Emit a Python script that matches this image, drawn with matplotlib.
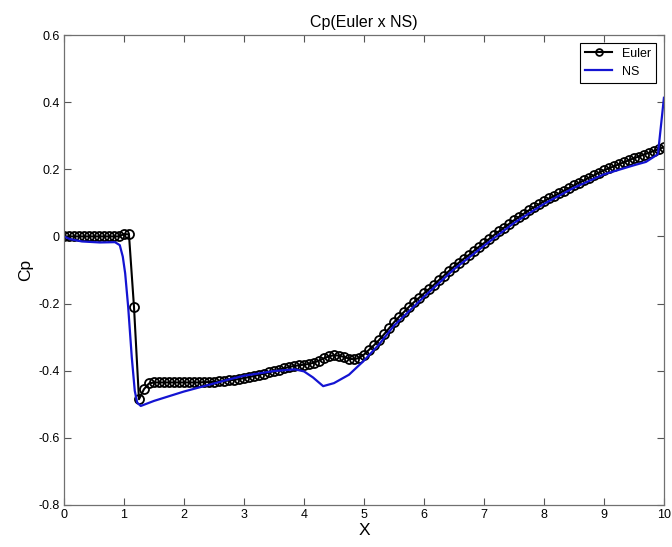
import matplotlib
matplotlib.use('Agg')
import matplotlib.pyplot as plt
from matplotlib.ticker import FuncFormatter

# Euler solution (circle markers)
X_EULER = [0.000, 0.083, 0.167, 0.250, 0.333, 0.417, 0.500, 0.583, 0.667, 0.750,
           0.833, 0.917, 1.000, 1.083, 1.167, 1.250, 1.333, 1.417, 1.500, 1.583,
           1.667, 1.750, 1.833, 1.917, 2.000, 2.083, 2.167, 2.250, 2.333, 2.417,
           2.500, 2.583, 2.667, 2.750, 2.833, 2.917, 3.000, 3.083, 3.167, 3.250,
           3.333, 3.417, 3.500, 3.583, 3.667, 3.750, 3.833, 3.917, 4.000, 4.083,
           4.167, 4.250, 4.333, 4.417, 4.500, 4.583, 4.667, 4.750, 4.833, 4.917,
           5.000, 5.083, 5.167, 5.250, 5.333, 5.417, 5.500, 5.583, 5.667, 5.750,
           5.833, 5.917, 6.000, 6.083, 6.167, 6.250, 6.333, 6.417, 6.500, 6.583,
           6.667, 6.750, 6.833, 6.917, 7.000, 7.083, 7.167, 7.250, 7.333, 7.417,
           7.500, 7.583, 7.667, 7.750, 7.833, 7.917, 8.000, 8.083, 8.167, 8.250,
           8.333, 8.417, 8.500, 8.583, 8.667, 8.750, 8.833, 8.917, 9.000, 9.083,
           9.167, 9.250, 9.333, 9.417, 9.500, 9.583, 9.667, 9.750, 9.833, 9.917,
           10.000]
CP_EULER = [0.0, 0.0, 0.0, 0.0, 0.0, 0.0, 0.0, 0.0, 0.0, 0.0,
            0.0, 0.0, 0.007, 0.006, -0.21, -0.485, -0.455, -0.438, -0.435, -0.435,
            -0.435, -0.435, -0.435, -0.435, -0.435, -0.435, -0.435, -0.435, -0.434, -0.434,
            -0.433, -0.432, -0.431, -0.429, -0.427, -0.425, -0.422, -0.419, -0.416, -0.412,
            -0.409, -0.405, -0.401, -0.397, -0.393, -0.389, -0.386, -0.384, -0.382, -0.380,
            -0.376, -0.370, -0.363, -0.357, -0.354, -0.355, -0.359, -0.364, -0.366, -0.362,
            -0.352, -0.338, -0.324, -0.309, -0.292, -0.274, -0.256, -0.240, -0.225, -0.210,
            -0.196, -0.183, -0.170, -0.157, -0.144, -0.130, -0.117, -0.103, -0.090, -0.078,
            -0.066, -0.055, -0.043, -0.031, -0.020, -0.008, 0.004, 0.015, 0.026, 0.037,
            0.048, 0.058, 0.068, 0.078, 0.087, 0.096, 0.105, 0.113, 0.120, 0.128,
            0.136, 0.144, 0.152, 0.160, 0.167, 0.175, 0.182, 0.190, 0.197, 0.203,
            0.209, 0.215, 0.221, 0.227, 0.233, 0.238, 0.244, 0.249, 0.255, 0.260,
            0.266]

# Navier-Stokes solution (plain line)
X_NS = [0.0, 0.1, 0.3, 0.6, 0.85, 0.93, 0.98, 1.02, 1.07, 1.13, 1.18, 1.22, 1.28,
        1.5, 2.0, 2.5, 2.75, 3.0, 3.5, 3.85, 4.0, 4.15, 4.32, 4.5, 4.75, 5.0,
        5.25, 5.5, 6.0, 6.5, 7.0, 7.5, 8.0, 8.5, 9.0, 9.5, 9.7, 9.9, 10.0]
CP_NS = [0.0, -0.008, -0.015, -0.018, -0.017, -0.026, -0.06, -0.11, -0.21, -0.36,
         -0.46, -0.495, -0.505, -0.49, -0.462, -0.438, -0.426, -0.415, -0.401,
         -0.396, -0.402, -0.42, -0.446, -0.437, -0.412, -0.37, -0.322, -0.266,
         -0.18, -0.098, -0.028, 0.04, 0.097, 0.145, 0.185, 0.212, 0.222, 0.245,
         0.413]

X_TICKS = [0, 1, 2, 3, 4, 5, 6, 7, 8, 9, 10]
Y_TICKS = [-0.8, -0.6, -0.4, -0.2, 0, 0.2, 0.4, 0.6]

plt.rcParams['font.family'] = ['Liberation Sans', 'DejaVu Sans']
plt.rcParams['axes.unicode_minus'] = False

fig = plt.figure(figsize=(6.72, 5.47), dpi=100)
ax = fig.add_axes([0.0952, 0.0768, 0.8928, 0.8592])

ax.plot(X_EULER, CP_EULER, color='black', linewidth=1.5, marker='o',
        markersize=6.5, markerfacecolor='none', markeredgewidth=1.3, label='Euler')
ax.plot(X_NS, CP_NS, color='#1414d2', linewidth=1.6, label='NS')

ax.set_xlim(0, 10)
ax.set_ylim(-0.8, 0.6)
ax.set_xticks(X_TICKS)
ax.set_yticks(Y_TICKS)
ax.yaxis.set_major_formatter(FuncFormatter(lambda v, p: '0' if abs(v) < 1e-9 else ('%g' % v)))

ax.tick_params(direction='in', length=5, width=0.8, color='#555555',
               labelsize=9, top=True, right=True, pad=3)
for s in ax.spines.values():
    s.set_color('#707070')
    s.set_linewidth(0.9)

ax.set_title('Cp(Euler x NS)', fontsize=11.5, pad=6)
ax.set_xlabel('X', fontsize=12.5, labelpad=1)
ax.set_ylabel('Cp', fontsize=12.5, labelpad=4)

leg = ax.legend(loc='upper right', fontsize=9, fancybox=False, framealpha=1,
                edgecolor='black', borderaxespad=0.6, handlelength=2.2,
                markerscale=0.75)
leg.get_frame().set_linewidth(0.8)

fig.savefig('out.png', dpi=100)
